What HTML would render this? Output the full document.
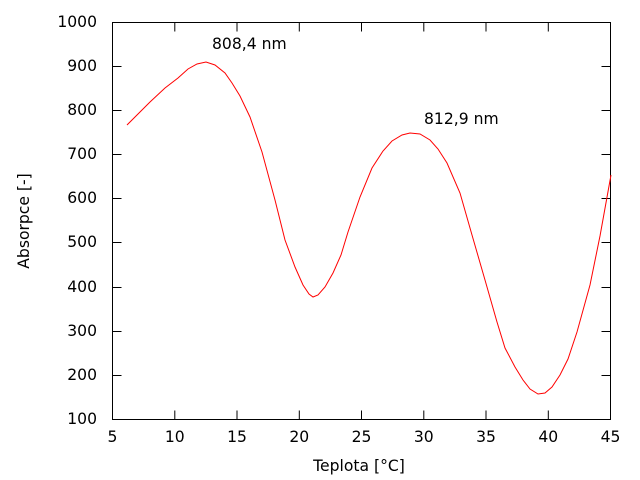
<!DOCTYPE html>
<html><head><style>body{margin:0;background:#fff}svg{display:block}text{font-family:"DejaVu Sans",sans-serif;font-size:15.6px;fill:#000}</style></head><body>
<svg width="640" height="480" xmlns="http://www.w3.org/2000/svg">
<g stroke="#000" stroke-width="1" fill="none">
<rect x="112.5" y="22.5" width="498" height="397"/>
<path d="M112.5 419.5h9M610.5 419.5h-9M112.5 375.5h9M610.5 375.5h-9M112.5 331.5h9M610.5 331.5h-9M112.5 287.5h9M610.5 287.5h-9M112.5 242.5h9M610.5 242.5h-9M112.5 198.5h9M610.5 198.5h-9M112.5 154.5h9M610.5 154.5h-9M112.5 110.5h9M610.5 110.5h-9M112.5 66.5h9M610.5 66.5h-9M112.5 22.5h9M610.5 22.5h-9"/>
<path d="M174.8 419.5v-9M174.8 22.5v9M237 419.5v-9M237 22.5v9M299.3 419.5v-9M299.3 22.5v9M361.5 419.5v-9M361.5 22.5v9M423.8 419.5v-9M423.8 22.5v9M486 419.5v-9M486 22.5v9M548.3 419.5v-9M548.3 22.5v9"/>
</g>
<g text-anchor="end">
<text x="97" y="424">100</text><text x="97" y="380">200</text><text x="97" y="336">300</text><text x="97" y="292">400</text><text x="97" y="247">500</text><text x="97" y="203">600</text><text x="97" y="159">700</text><text x="97" y="115">800</text><text x="97" y="71">900</text><text x="97" y="27">1000</text>
</g>
<g text-anchor="middle">
<text x="112.5" y="442">5</text><text x="174.8" y="442">10</text><text x="237" y="442">15</text><text x="299.3" y="442">20</text><text x="361.5" y="442">25</text><text x="423.8" y="442">30</text><text x="486" y="442">35</text><text x="548.3" y="442">40</text><text x="610.5" y="442">45</text>
<text x="359" y="471">Teplota [°C]</text>
<text transform="translate(29,221) rotate(-90)">Absorpce [-]</text>
</g>
<text x="212" y="49">808,4 nm</text>
<text x="424" y="124">812,9 nm</text>
<path fill="none" stroke="#f00" stroke-width="1" d="M127 125 L150 102 L165 88 L178 78 L188 69 L197 64 L206 62 L215 65 L225 73 L232 83 L240 96 L250 117 L262 152 L275 200 L285 240 L295 267 L303 285 L309 294 L313 297 L318 295 L325 287 L333 273 L341 255 L348 232 L360 197 L372 168 L383 151 L392 141 L402 135 L410 133 L420 134 L430 140 L438 149 L447 163 L460 193 L472 235 L485 280 L497 322 L505 348 L515 367 L523 380 L530 389 L538 394 L545 393 L552 387 L560 375 L568 359 L577 332 L590 285 L600 236 L611 175"/>
</svg>
</body></html>
